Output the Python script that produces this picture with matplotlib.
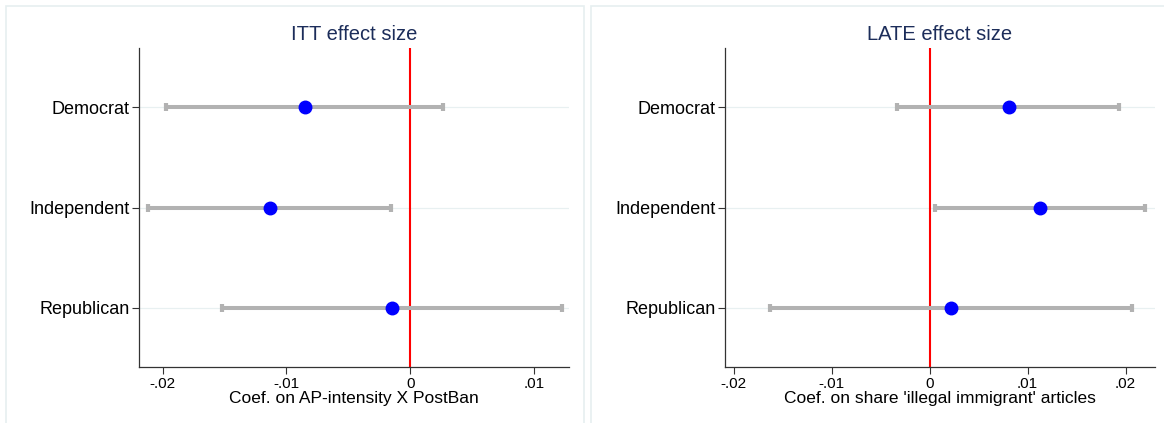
import matplotlib.pyplot as plt
from matplotlib.patches import Rectangle

plt.rcParams['font.family'] = ['Liberation Sans', 'DejaVu Sans']

# party groups, top to bottom
groups = ["Democrat", "Independent", "Republican"]

# ITT estimates and 95% CI
itt_coef = [-0.0085, -0.0113, -0.0015]
itt_lo = [-0.0197, -0.0212, -0.0152]
itt_hi = [0.0026, -0.0016, 0.0122]

# LATE estimates and 95% CI
late_coef = [0.0081, 0.0113, 0.0022]
late_lo = [-0.0033, 0.0005, -0.0163]
late_hi = [0.0193, 0.0220, 0.0207]

itt_ticks = [-0.02, -0.01, 0, 0.01]
itt_ticklabels = ["-.02", "-.01", "0", ".01"]
late_ticks = [-0.02, -0.01, 0, 0.01, 0.02]
late_ticklabels = ["-.02", "-.01", "0", ".01", ".02"]

W, H = 1164, 423
fig = plt.figure(figsize=(W / 100, H / 100), dpi=100)
fig.patch.set_facecolor("white")

# light frame around each graph
for x0, x1 in [(6, 584), (591, 1175)]:
    fig.patches.append(Rectangle((x0 / W, -0.05), (x1 - x0) / W, 1.05 - 6 / H,
                                 transform=fig.transFigure, fill=False,
                                 edgecolor="#e6eff0", linewidth=1.2))


def coefplot(ax, coef, lo, hi, ticks, ticklabels, xlim, title, xlabel):
    ypos = list(range(1, len(groups) + 1))
    for y in ypos:
        ax.axhline(y, color="#e8f0f1", linewidth=0.9, zorder=0)
    ax.axvline(0, color="red", linewidth=1.5, zorder=2)
    ax.hlines(ypos, lo, hi, color="#b2b2b2", linewidth=2.9, zorder=3)
    ax.plot(lo, ypos, linestyle="none", marker="|", markersize=5.5,
            markeredgewidth=3, color="#b2b2b2", zorder=3)
    ax.plot(hi, ypos, linestyle="none", marker="|", markersize=5.5,
            markeredgewidth=3, color="#b2b2b2", zorder=3)
    ax.plot(coef, ypos, linestyle="none", marker="o", markersize=9,
            color="#0000ff", zorder=4)

    ax.set_xlim(*xlim)
    ax.set_ylim(3.59, 0.41)
    ax.set_yticks(ypos)
    ax.set_yticklabels(groups, fontsize=13)
    ax.set_xticks(ticks)
    ax.set_xticklabels(ticklabels, fontsize=11)
    ax.set_xlabel(xlabel, fontsize=12.5, labelpad=0)
    ax.set_title(title, fontsize=14.5, color="#1c2d5a", pad=6)
    ax.tick_params(axis="both", length=5, width=0.8, color="#333333", pad=2)
    for side in ["top", "right"]:
        ax.spines[side].set_visible(False)
    for side in ["left", "bottom"]:
        ax.spines[side].set_color("#333333")
        ax.spines[side].set_linewidth(0.9)


ax1 = fig.add_axes([139 / W, 56 / H, 430 / W, 319 / H])
coefplot(ax1, itt_coef, itt_lo, itt_hi, itt_ticks, itt_ticklabels,
         (-0.0219, 0.0128), "ITT effect size", "Coef. on AP-intensity X PostBan")

ax2 = fig.add_axes([725 / W, 56 / H, 430 / W, 319 / H])
coefplot(ax2, late_coef, late_lo, late_hi, late_ticks, late_ticklabels,
         (-0.0209, 0.0230), "LATE effect size",
         "Coef. on share 'illegal immigrant' articles")

fig.savefig("out.png", dpi=100)
